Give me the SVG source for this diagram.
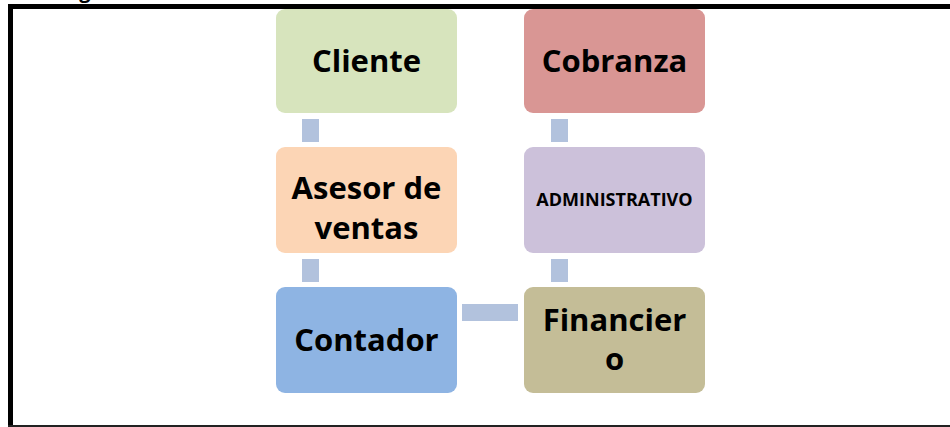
<svg xmlns="http://www.w3.org/2000/svg" width="950" height="427" viewBox="0 0 950 427">
<style>
.box{stroke:none}
.t{font-family:"Open Sans","Liberation Sans",sans-serif;font-weight:bold;font-size:31px;fill:#000;text-anchor:middle}
.ts{font-size:18px}
.c{fill:#B2C2DD}
</style>
<rect x="0" y="0" width="950" height="427" fill="#fff"/>
<text x="85" y="-2" class="t" style="font-size:20px">g</text>
<g id="frame">
<rect x="8" y="4" width="942" height="5" fill="#000"/>
<rect x="8" y="4" width="5" height="423" fill="#000"/>
<rect x="8" y="425" width="942" height="2" fill="#222"/>
</g>
<g id="connectors">
<rect class="c" x="302" y="119" width="17" height="23"/>
<rect class="c" x="302" y="259" width="17" height="23"/>
<rect class="c" x="551" y="119" width="17" height="23"/>
<rect class="c" x="551" y="259" width="17" height="23"/>
<rect class="c" x="462" y="304" width="56" height="17"/>
</g>
<g id="cliente">
<rect class="box" x="276" y="9" width="181" height="104" rx="9" fill="#D7E4BD"/>
<text class="t" x="366.5" y="72">Cliente</text>
</g>
<g id="cobranza">
<rect class="box" x="524" y="9" width="181" height="104" rx="9" fill="#D99694"/>
<text class="t" x="614.5" y="72">Cobranza</text>
</g>
<g id="asesor">
<rect class="box" x="276" y="147" width="181" height="106" rx="9" fill="#FCD5B5"/>
<text class="t" x="366.5" y="199">Asesor de</text>
<text class="t" x="366.5" y="239">ventas</text>
</g>
<g id="administrativo">
<rect class="box" x="524" y="147" width="181" height="106" rx="9" fill="#CCC1DA"/>
<text class="t ts" x="614.5" y="206">ADMINISTRATIVO</text>
</g>
<g id="contador">
<rect class="box" x="276" y="287" width="181" height="106" rx="9" fill="#8EB4E3"/>
<text class="t" x="366.5" y="351">Contador</text>
</g>
<g id="financiero">
<rect class="box" x="524" y="287" width="181" height="106" rx="9" fill="#C4BD97"/>
<text class="t" x="614.5" y="331">Financier</text>
<text class="t" x="614.5" y="370">o</text>
</g>
</svg>
